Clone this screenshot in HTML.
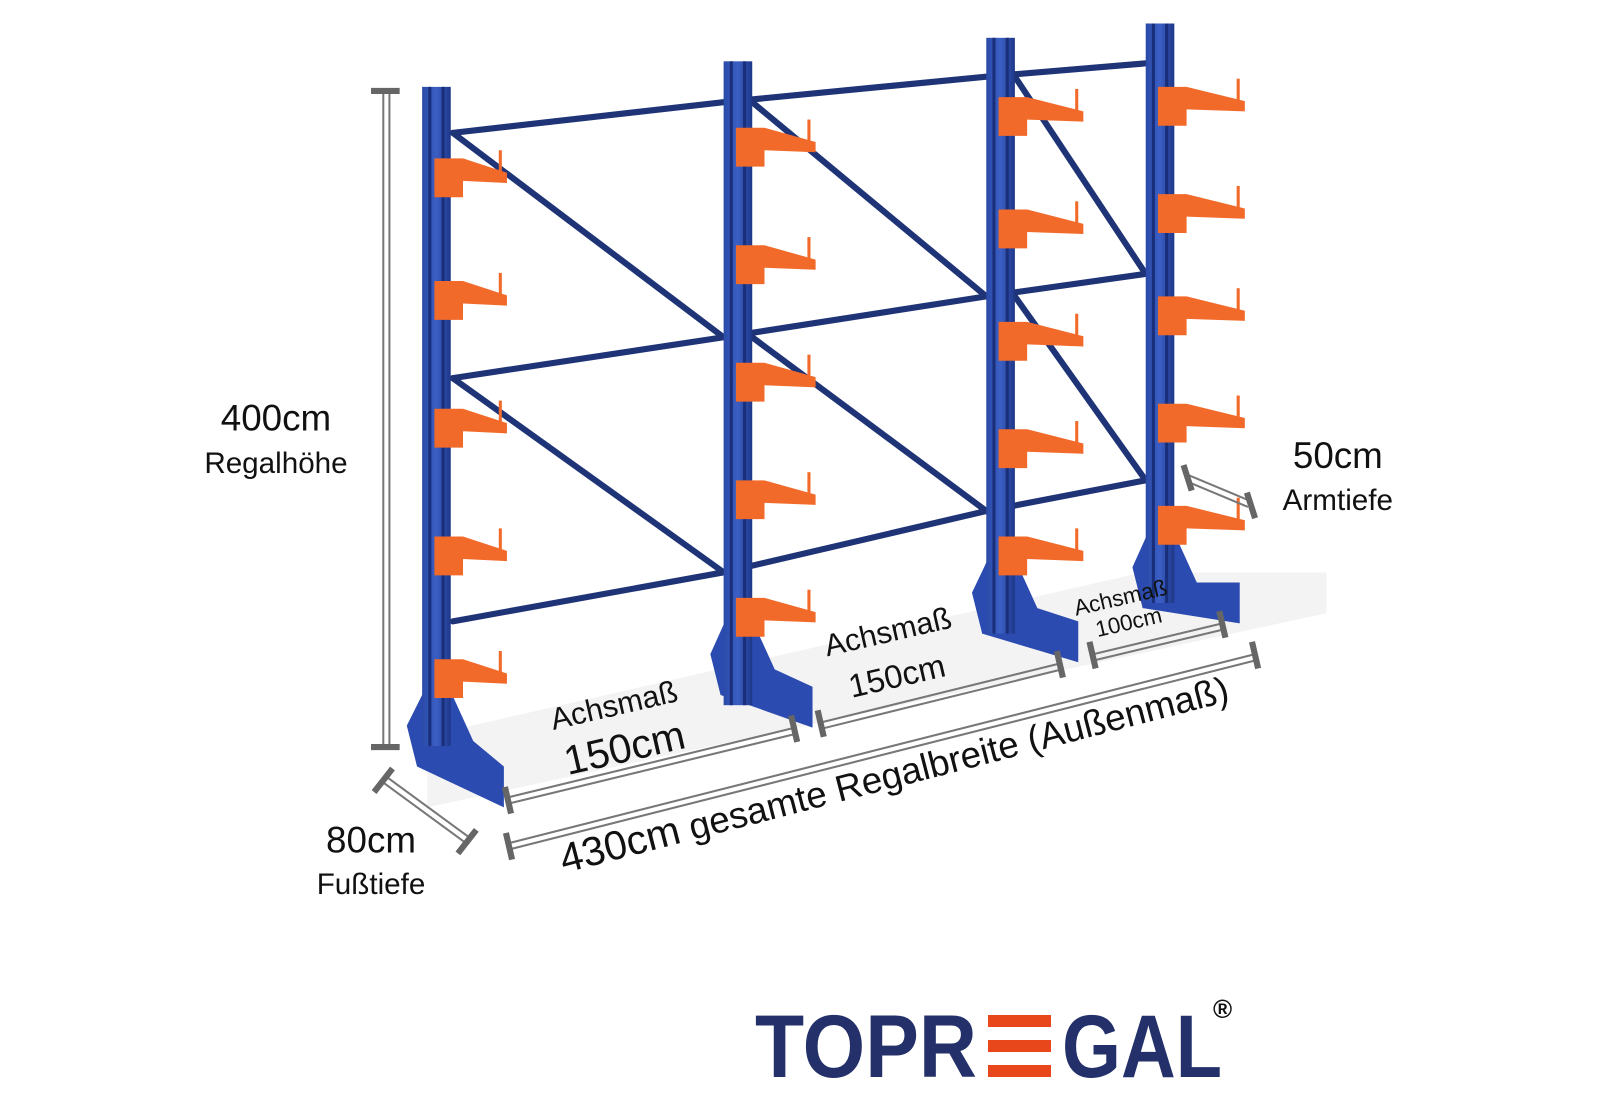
<!DOCTYPE html>
<html><head><meta charset="utf-8"><style>
html,body{margin:0;padding:0;background:#fff;width:1600px;height:1100px;overflow:hidden}
svg{display:block}
text{font-family:"Liberation Sans",sans-serif;fill:#111}
</style></head><body>
<svg id="s" width="1600" height="1100" viewBox="0 0 1600 1100" xmlns="http://www.w3.org/2000/svg">
<defs>
<linearGradient id="col" x1="0" x2="1"><stop offset="0" stop-color="#2a4aa8"/><stop offset="0.5" stop-color="#3b5fc4"/><stop offset="1" stop-color="#1e3788"/></linearGradient>
</defs>
<g transform="translate(-2,0) scale(1.022)">
<polygon points="420,790 1300,600 1300,560 1120,560 420,720" fill="#f3f3f3"/>
<g stroke="#1f3477" stroke-width="6" stroke-linecap="round">
<polyline fill="none" points="445,130 710,100 967,75 1123,62"/>
<polyline fill="none" points="445,370 710,330 967,290 1123,268"/>
<polyline fill="none" points="445,608 710,560 967,500 1123,470"/>
<line x1="445" y1="130" x2="710" y2="330"/>
<line x1="445" y1="370" x2="710" y2="560"/>
<line x1="738" y1="100" x2="967" y2="290"/>
<line x1="738" y1="330" x2="967" y2="500"/>
<line x1="995" y1="75" x2="1123" y2="268"/>
<line x1="995" y1="290" x2="1123" y2="470"/>
</g>
<g id="cols"></g>
<g fill="none" stroke="#777" stroke-width="2">
<line x1="377" y1="90" x2="377" y2="730"/><line x1="383" y1="90" x2="383" y2="730"/>
<line x1="376" y1="765" x2="458" y2="825"/><line x1="380" y1="760" x2="462" y2="820"/>
<line x1="500" y1="780" x2="780" y2="712"/><line x1="501" y1="786" x2="781" y2="718"/>
<line x1="805" y1="707" x2="1040" y2="649"/><line x1="806" y1="713" x2="1041" y2="655"/>
<line x1="1072" y1="640" x2="1198" y2="610"/><line x1="1073" y1="646" x2="1199" y2="616"/>
<line x1="500" y1="825" x2="1230" y2="640"/><line x1="501" y1="831" x2="1231" y2="646"/>
<line x1="1165" y1="465" x2="1225" y2="490"/><line x1="1163" y1="471" x2="1223" y2="496"/>
</g>
<g stroke="#666" stroke-width="6">
<line x1="365" y1="89" x2="393" y2="89"/><line x1="365" y1="731" x2="393" y2="731"/>
<line x1="368" y1="775" x2="386" y2="752"/><line x1="450" y1="835" x2="468" y2="812"/>
<line x1="496" y1="770" x2="502" y2="796"/><line x1="776" y1="700" x2="782" y2="726"/>
<line x1="802" y1="695" x2="808" y2="721"/><line x1="1036" y1="637" x2="1042" y2="663"/>
<line x1="1068" y1="628" x2="1074" y2="654"/><line x1="1195" y1="598" x2="1201" y2="624"/>
<line x1="497" y1="815" x2="503" y2="841"/><line x1="1227" y1="628" x2="1233" y2="654"/>
<line x1="1160" y1="455" x2="1168" y2="480"/><line x1="1222" y1="482" x2="1230" y2="507"/>
</g>
<text x="272" y="421" font-size="36" text-anchor="middle">400cm</text>
<text x="272" y="463" font-size="29" text-anchor="middle">Regalhöhe</text>
<text x="365" y="834" font-size="36" text-anchor="middle">80cm</text>
<text x="365" y="875" font-size="29" text-anchor="middle">Fußtiefe</text>
<text x="1311" y="458" font-size="36" text-anchor="middle">50cm</text>
<text x="1311" y="499" font-size="29" text-anchor="middle">Armtiefe</text>
<text transform="translate(605,700) rotate(-13)" font-size="30" text-anchor="middle">Achsmaß</text>
<text transform="translate(616,745) rotate(-13)" font-size="40" text-anchor="middle">150cm</text>
<text transform="translate(873,628) rotate(-13)" font-size="30" text-anchor="middle">Achsmaß</text>
<text transform="translate(882,672) rotate(-13)" font-size="32" text-anchor="middle">150cm</text>
<text transform="translate(1100,592) rotate(-13)" font-size="22" text-anchor="middle">Achsmaß</text>
<text transform="translate(1108,616) rotate(-13)" font-size="22" text-anchor="middle">100cm</text>
<text transform="translate(880,770) rotate(-14.5)" font-size="36" text-anchor="middle"><tspan font-size="40">430cm</tspan> gesamte Regalbreite (Außenmaß)</text>
</g>
<text x="755" y="1077" font-size="89" font-weight="bold" style="fill:#23306a" textLength="222" lengthAdjust="spacingAndGlyphs">TOPR</text>
<text x="1062" y="1077" font-size="89" font-weight="bold" style="fill:#23306a" textLength="160" lengthAdjust="spacingAndGlyphs">GAL</text>
<text x="1213" y="1018" font-size="26" font-weight="bold" style="fill:#111">®</text>
<g fill="#e8471b"><rect x="988" y="1015" width="63" height="12"/><rect x="988" y="1040" width="63" height="12"/><rect x="988" y="1065" width="63" height="12"/></g>
</svg>
<script>
var ns="http://www.w3.org/2000/svg",g=document.getElementById('cols');
function el(t,a){var e=document.createElementNS(ns,t);for(var k in a)e.setAttribute(k,a[k]);g.appendChild(e);return e;}
var cols=[{x:415,top:85,bot:730,arms:[155,275,400,525,645],len:55,base:[400,700,495,790]},
{x:710,top:60,bot:690,arms:[125,240,355,470,585],len:62,base:[697,630,797,712]},
{x:967,top:37,bot:620,arms:[95,205,315,420,525],len:67,base:[953,570,1057,648]},
{x:1123,top:23,bot:590,arms:[85,190,290,395,495],len:69,base:[1110,545,1215,610]}];
cols.forEach(function(c){
 var b=c.base;
 el('polygon',{points:b[0]+','+(b[1]+10)+' '+(c.x+5)+','+(b[1]-30)+' '+(c.x+25)+','+(b[1]-30)+' '+(c.x+50)+','+(b[1]+25)+' '+b[2]+','+(b[3]-40)+' '+b[2]+','+b[3]+' '+(b[0]+10)+','+(b[1]+50),fill:'#2c4bb0'});
 el('rect',{x:c.x,y:c.top,width:28,height:c.bot-c.top,fill:'url(#col)'});
 el('rect',{x:c.x+6,y:c.top,width:3,height:c.bot-c.top,fill:'#1a2f7a'});
 el('rect',{x:c.x+19,y:c.top,width:3,height:c.bot-c.top,fill:'#1a2f7a'});
 c.arms.forEach(function(y){
  var x=c.x+12;
  el('polygon',{points:x+','+y+' '+(c.x+40)+','+y+' '+(c.x+28+c.len)+','+(y+14)+' '+(c.x+28+c.len)+','+(y+24)+' '+(c.x+40)+','+(y+22)+' '+(c.x+40)+','+(y+38)+' '+x+','+(y+38),fill:'#f26a2a'});
  el('rect',{x:c.x+20+c.len,y:y-8,width:3,height:24,fill:'#f26a2a'});
 });
});
</script>
</body></html>
